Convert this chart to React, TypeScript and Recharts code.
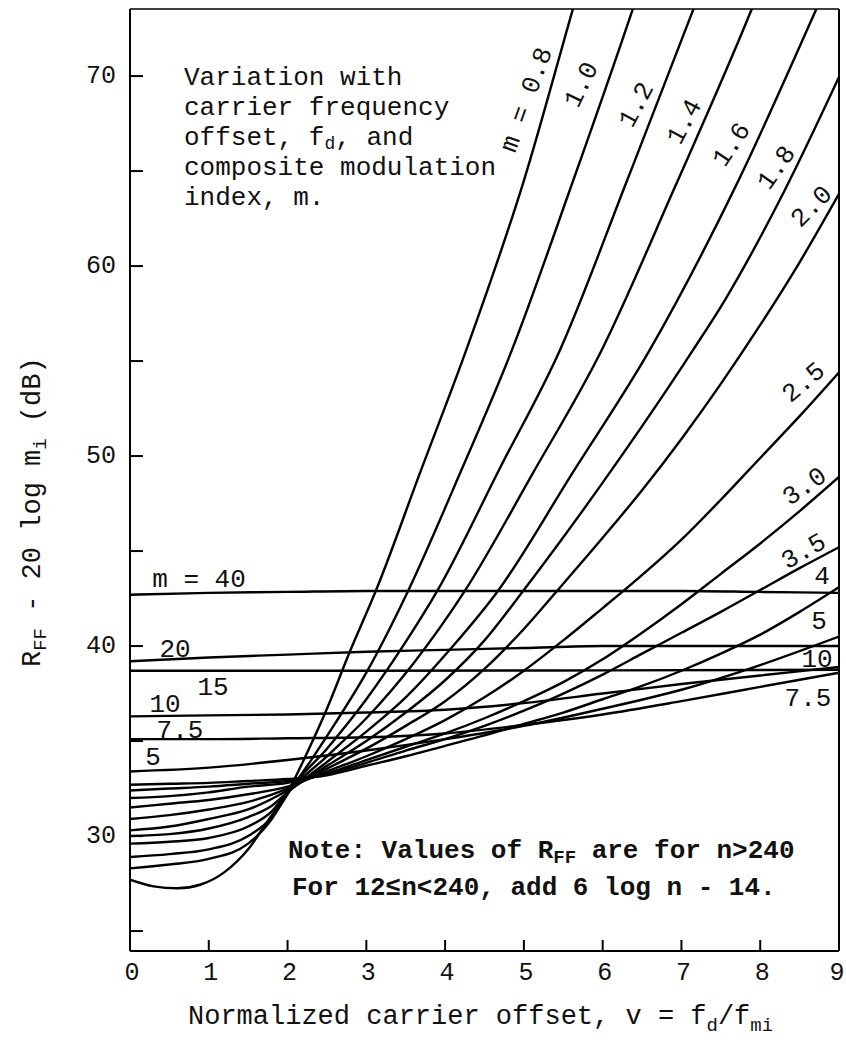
import React from 'react';
import { LineChart, Line, XAxis, YAxis, ReferenceLine } from 'recharts';

// [normalized carrier offset v, R_FF - 20 log m_i (dB)]
const m0_8 = [[0, 27.7], [0.3, 27.35], [0.6, 27.25], [0.9, 27.45], [1.2, 28.1], [1.5, 29.3], [1.75, 30.8], [2.0, 32.3], [2.25, 34.4], [2.5, 36.7], [2.79, 39.7], [3.13, 43.0], [3.68, 49.1], [4.27, 55.6], [5.0, 64.5], [5.62, 73.5], [6.0, 79.0]];
const m1_0 = [[0, 28.3], [0.5, 28.5], [1, 28.8], [1.5, 29.6], [1.8, 30.9], [2.0, 32.2], [2.3, 34.0], [2.6, 35.9], [3.0, 38.6], [3.53, 42.9], [4.2, 49.2], [4.85, 55.6], [5.6, 64.2], [6.38, 73.5], [6.8, 78.8]];
const m1_2 = [[0, 28.9], [0.5, 29.05], [1, 29.3], [1.5, 30.0], [1.8, 31.0], [2.0, 32.3], [2.5, 34.6], [3.0, 37.2], [3.45, 39.9], [3.9, 42.9], [4.7, 49.4], [5.46, 55.6], [6.3, 64.4], [7.15, 73.5], [7.6, 78.5]];
const m1_4 = [[0, 29.6], [0.5, 29.7], [1, 29.9], [1.5, 30.5], [1.8, 31.3], [2.0, 32.3], [2.5, 34.2], [3.0, 36.2], [3.6, 39.1], [4.25, 42.9], [5.1, 49.0], [5.99, 55.6], [6.9, 64.0], [7.89, 73.5], [8.3, 77.8]];
const m1_6 = [[0, 30.0], [0.5, 30.1], [1, 30.4], [1.5, 31.0], [1.8, 31.6], [2.0, 32.3], [2.5, 33.9], [3.0, 35.5], [3.5, 37.3], [4.1, 40.0], [4.67, 42.9], [5.6, 49.0], [6.6, 55.6], [7.7, 64.3], [8.71, 73.5], [9, 76.2]];
const m1_8 = [[0, 30.3], [0.5, 30.5], [1, 30.9], [1.5, 31.4], [2.0, 32.4], [2.5, 33.7], [3.0, 35.0], [3.5, 36.5], [4.0, 38.2], [4.5, 40.3], [4.99, 42.9], [6.0, 48.6], [7.15, 55.6], [7.55, 58.2], [8.3, 63.9], [9, 69.95]];
const m2_0 = [[0, 30.9], [0.5, 31.1], [1, 31.4], [1.5, 31.8], [2, 32.5], [2.5, 33.55], [3, 34.6], [3.5, 35.8], [4, 37.1], [4.5, 38.8], [5, 40.9], [5.42, 42.9], [6, 45.7], [6.5, 48.2], [7, 50.9], [7.5, 53.8], [8, 56.9], [8.5, 60.2], [9, 63.8]];
const m2_5 = [[0, 31.5], [0.5, 31.7], [1, 31.9], [1.5, 32.2], [2, 32.6], [2.5, 33.4], [3, 34.2], [3.5, 35.1], [4, 36.1], [4.5, 37.3], [5, 38.7], [5.5, 40.3], [6, 42.0], [6.32, 43.1], [7, 45.6], [7.5, 47.7], [8, 49.9], [8.5, 52.1], [9, 54.4]];
const m3_0 = [[0, 32.0], [0.5, 32.1], [1, 32.3], [1.5, 32.6], [2, 32.8], [2.5, 33.3], [3, 34.0], [3.5, 34.7], [4, 35.4], [4.5, 36.2], [5, 37.1], [5.5, 38.1], [6, 39.3], [6.5, 40.7], [7, 42.2], [7.5, 43.8], [8, 45.4], [8.5, 47.1], [9, 48.9]];
const m3_5 = [[0, 32.4], [0.5, 32.5], [1, 32.6], [1.5, 32.75], [2, 32.9], [2.5, 33.25], [3, 33.85], [3.5, 34.5], [4, 35.1], [4.5, 35.8], [5, 36.6], [5.5, 37.5], [6, 38.5], [6.5, 39.6], [7, 40.7], [7.5, 41.8], [8, 42.95], [8.5, 44.1], [9, 45.2]];
const m4 = [[0, 32.7], [0.5, 32.75], [1, 32.8], [1.5, 32.9], [2, 33.0], [2.5, 33.2], [3, 33.7], [3.5, 34.2], [4, 34.75], [4.5, 35.3], [5, 35.9], [5.5, 36.5], [6, 37.2], [6.5, 37.9], [7, 38.7], [7.5, 39.6], [8, 40.6], [8.5, 41.8], [9, 43.1]];
const m5 = [[0, 33.4], [1, 33.6], [2, 34.0], [3, 34.5], [4, 35.1], [5, 35.8], [6, 36.7], [7, 37.7], [8, 39.0], [9, 40.5]];
const m7_5 = [[0, 35.1], [1, 35.1], [2, 35.15], [3, 35.2], [4, 35.4], [5, 35.85], [6, 36.4], [7, 37.1], [8, 37.85], [9, 38.6]];
const m10 = [[0, 36.3], [1, 36.35], [2, 36.4], [3, 36.5], [4, 36.65], [5, 37.0], [6, 37.5], [7, 38.0], [8, 38.45], [9, 38.9]];
const m15 = [[0, 38.7], [3, 38.7], [6, 38.72], [9, 38.75]];
const m20 = [[0, 39.2], [1, 39.4], [2, 39.55], [3, 39.7], [4, 39.8], [5, 39.9], [6, 40.0], [7, 40.0], [8, 40.0], [9, 40.0]];
const m40 = [[0, 42.7], [1, 42.8], [2, 42.85], [3, 42.9], [4, 42.9], [5, 42.9], [6, 42.9], [7, 42.9], [8, 42.85], [9, 42.8]];

const curves = [
  { m: '0.8', pts: m0_8 }, { m: '1.0', pts: m1_0 }, { m: '1.2', pts: m1_2 },
  { m: '1.4', pts: m1_4 }, { m: '1.6', pts: m1_6 }, { m: '1.8', pts: m1_8 },
  { m: '2.0', pts: m2_0 }, { m: '2.5', pts: m2_5 }, { m: '3.0', pts: m3_0 },
  { m: '3.5', pts: m3_5 }, { m: '4', pts: m4 }, { m: '5', pts: m5 },
  { m: '7.5', pts: m7_5 }, { m: '10', pts: m10 }, { m: '15', pts: m15 },
  { m: '20', pts: m20 }, { m: '40', pts: m40 },
];

const xTicks = [0, 1, 2, 3, 4, 5, 6, 7, 8, 9];
const yTicks = [25, 30, 35, 40, 45, 50, 55, 60, 65, 70];
const yLabelled = [30, 40, 50, 60, 70];
const Y_MIN = 23.95;
const Y_MAX = 73.53;

const MONO = "'Liberation Mono', 'DejaVu Sans Mono', monospace";
const INK = '#111';

function YTick({ x, y, payload }: any) {
  const ax = x + 14;
  return (
    <g>
      <line x1={ax} x2={ax + 13} y1={y} y2={y} stroke="#000" strokeWidth={2} />
      {yLabelled.includes(payload.value) && (
        <text x={x} y={y} textAnchor="end" dominantBaseline="central" fontFamily={MONO} fontSize={25} fill={INK}>
          {payload.value}
        </text>
      )}
    </g>
  );
}

function XTick({ x, y, payload }: any) {
  const ay = y - 22;
  const inner = payload.value > 0 && payload.value < 9;
  // last label sits against the right frame
  const dx = payload.value === 9 ? -2 : 2;
  return (
    <g>
      {inner && <line x1={x} x2={x} y1={ay} y2={ay - 11} stroke="#000" strokeWidth={2} />}
      <text x={x + dx} y={y} textAnchor="middle" dominantBaseline="central" fontFamily={MONO} fontSize={25} fill={INK}>
        {payload.value}
      </text>
    </g>
  );
}

// curve labels: [text, cx, cy, rotation]
const curveTags: [string, number, number, number][] = [
  ['m = 0.8', 527, 100, -70], ['1.0', 582, 85, -64], ['1.2', 637, 105, -62],
  ['1.4', 685, 122, -62], ['1.6', 732, 145, -56], ['1.8', 777, 168, -55],
  ['2.0', 812, 207, -45], ['2.5', 804, 383, -40], ['3.0', 805, 487, -35],
  ['3.5', 804, 552, -30], ['4', 822, 577, 0], ['5', 819, 622, 0],
  ['10', 817, 660, 0], ['7.5', 808, 699, 0],
  ['m = 40', 199, 580, 0], ['20', 175, 650, 0], ['15', 213, 688, 0],
  ['10', 165, 705, 0], ['7.5', 180, 731, 0], ['5', 153, 758, 0],
];

const noteLines = ['Variation with', 'carrier frequency', null, 'composite modulation', 'index, m.'];
const noteBase = [85, 115, 145, 175, 205];

export default function App() {
  return (
    <div style={{ position: 'absolute', left: 0, top: 0, width: 846, height: 1046, background: '#fff' }}>
      <LineChart width={846} height={1046} margin={{ top: 9, right: 7, bottom: 45, left: 70 }}>
        <XAxis
          type="number"
          dataKey="v"
          domain={[0, 9]}
          ticks={xTicks}
          interval={0}
          allowDataOverflow
          height={50}
          tickLine={false}
          tickSize={0}
          tickMargin={22}
          tick={XTick}
          axisLine={{ stroke: '#000', strokeWidth: 2 }}
        />
        <YAxis
          type="number"
          domain={[Y_MIN, Y_MAX]}
          ticks={yTicks}
          interval={0}
          allowDataOverflow
          width={60}
          tickLine={false}
          tickSize={0}
          tickMargin={14}
          tick={YTick}
          axisLine={{ stroke: '#000', strokeWidth: 2 }}
        />
        <ReferenceLine y={Y_MAX} stroke="#000" strokeWidth={1.5} ifOverflow="visible" />
        <ReferenceLine x={9} stroke="#000" strokeWidth={2} ifOverflow="visible" />
        {curves.map((c) => (
          <Line
            key={c.m}
            data={c.pts.map(([v, r]) => ({ v, r }))}
            dataKey="r"
            type="monotone"
            stroke="#000"
            strokeWidth={2.4}
            dot={false}
            activeDot={false}
            isAnimationActive={false}
          />
        ))}
      </LineChart>

      <svg width={846} height={1046} style={{ position: 'absolute', left: 0, top: 0, pointerEvents: 'none' }}>
        <g fontFamily={MONO} fill={INK}>
          {noteLines.map((t, i) =>
            t === null ? (
              <text key={i} x={184} y={noteBase[i]} fontSize={26}>
                offset, f<tspan dy={4} fontSize={18}>d</tspan>
                <tspan dy={-4}>, and</tspan>
              </text>
            ) : (
              <text key={i} x={184} y={noteBase[i]} fontSize={26}>
                {t}
              </text>
            ),
          )}

          <text x={288} y={858} fontSize={26} fontWeight="bold">
            Note: Values of R<tspan dy={5} fontSize={19}>FF</tspan>
            <tspan dy={-5}> are for n&gt;240</tspan>
          </text>
          <text x={292} y={895} fontSize={26} fontWeight="bold">
            For 12≤n&lt;240, add 6 log n - 14.
          </text>

          {curveTags.map(([t, cx, cy, rot], i) => (
            <text
              key={i}
              x={cx}
              y={cy}
              fontSize={26}
              textAnchor="middle"
              dominantBaseline="central"
              transform={`rotate(${rot} ${cx} ${cy})`}
            >
              {t}
            </text>
          ))}

          <text x={40} y={667} fontSize={27} transform="rotate(-90 40 667)">
            R<tspan dy={6} fontSize={19}>FF</tspan>
            <tspan dy={-6}> - 20 log m</tspan>
            <tspan dy={6} fontSize={19}>i</tspan>
            <tspan dy={-6}> (dB)</tspan>
          </text>

          <text x={188} y={1024} fontSize={27}>
            Normalized carrier offset, v = f<tspan dy={7} fontSize={19}>d</tspan>
            <tspan dy={-7}>/f</tspan>
            <tspan dy={7} fontSize={19}>mi</tspan>
          </text>
        </g>
      </svg>
    </div>
  );
}
